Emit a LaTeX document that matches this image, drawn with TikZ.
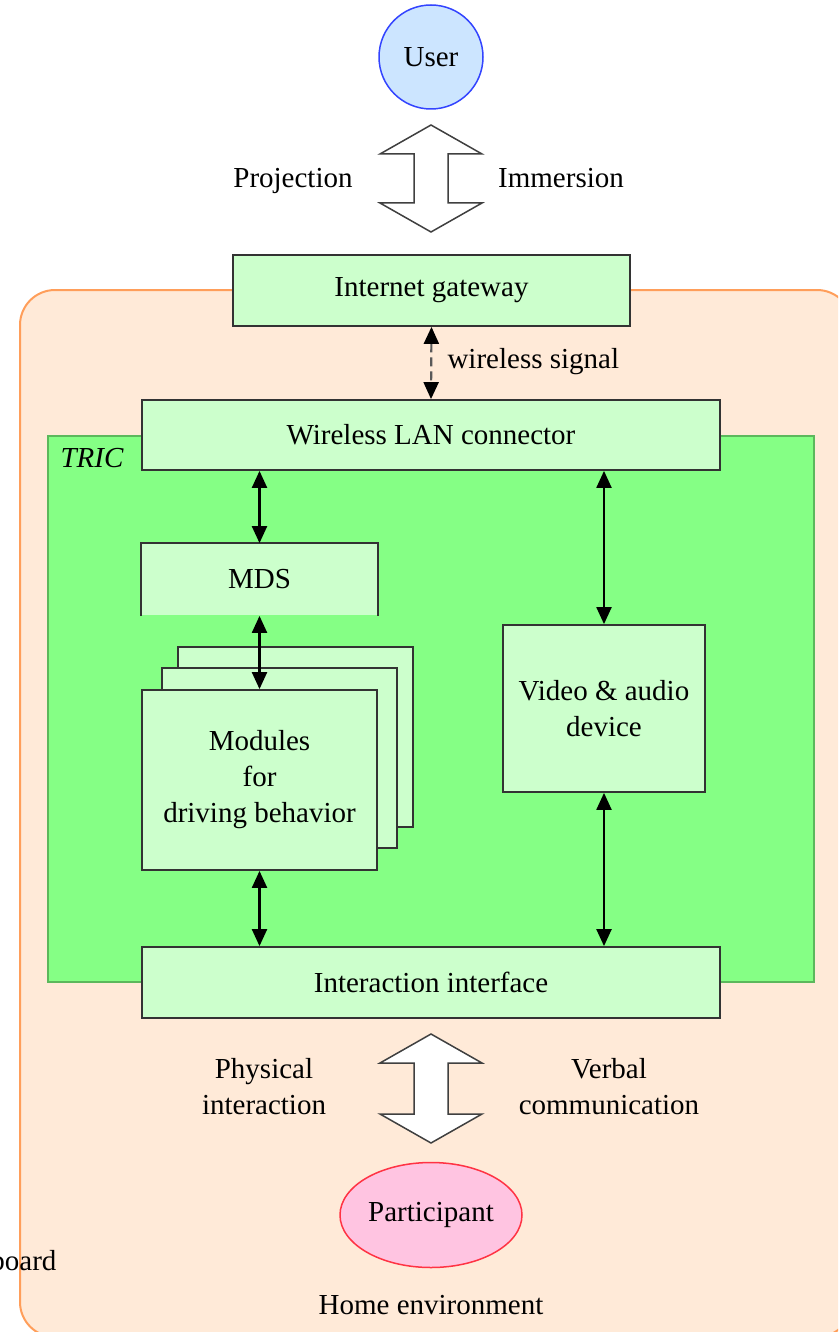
\documentclass[tikz,border=0pt]{standalone}
\usepackage{fontspec}
\setmainfont{Liberation Serif}
\usetikzlibrary{arrows.meta,positioning,shapes.geometric}
\definecolor{boxgreen}{HTML}{CCFFCC}
\definecolor{tricgreen}{HTML}{85FF85}
\definecolor{tricline}{HTML}{5CB85C}
\definecolor{homefill}{HTML}{FFEAD8}
\definecolor{homeline}{HTML}{FF9E5A}
\definecolor{userfill}{HTML}{CCE5FF}
\definecolor{userline}{HTML}{3344FF}
\definecolor{partfill}{HTML}{FFC4E1}
\definecolor{partline}{HTML}{FF3344}
\tikzset{
  box/.style={draw=black!80,fill=boxgreen,line width=1.8pt,inner sep=0pt,align=center},
  link/.style={line width=2.2pt,{Triangle[width=15pt,length=17pt]}-{Triangle[width=15pt,length=17pt]}},
  fat/.style={draw=black!75,fill=white,line width=1.5pt,line join=miter},
}
\begin{document}
\begin{tikzpicture}[x=1pt,y=-1pt,font=\fontsize{29}{36}\selectfont]
  \useasboundingbox (0,0) rectangle (838,1332);
  \clip (0,0) rectangle (838,1332);
  % home environment frame
  \draw[homeline,fill=homefill,line width=2pt,rounded corners=35pt] (20,290) rectangle (852,1337);
  \node[anchor=base east] (brd) at (60,1270) {board};
  \node (home) at (431,1305) {Home environment};
  % TRIC
  \node[draw=tricline,fill=tricgreen,line width=1.4pt,minimum width=766,minimum height=546] (tric) at (431,709) {};
  \node[anchor=base west] (tricl) at (57,467) {\textit{TRIC}};
  % user side
  \node[circle,draw=userline,fill=userfill,line width=1.5pt,minimum size=104,inner sep=0pt] (user) at (431,57) {User};
  \coordinate (up) at (431,125);
  \draw[fat] (up) -- ++(51,29) -- ++(-34,0) -- ++(0,49) -- ++(34,0) -- ++(-51,29) -- ++(-51,-29) -- ++(34,0) -- ++(0,-49) -- ++(-34,0) -- cycle;
  \node[anchor=base] (proj) at (293,188) {Projection};
  \node[anchor=base] (imm) at (561,188) {Immersion};
  \node[box,minimum width=397,minimum height=71] (gw) at (431.5,290.5) {Internet gateway};
  % boxes
  \node[box,minimum width=578,minimum height=70] (lan) at (431,435) {Wireless LAN connector};
  \node[box,draw=none,minimum width=235,minimum height=71] (mds) at (259.5,579.5) {MDS};
  \draw[line width=1.8pt,black!80] (mds.south west) -- (mds.north west) -- (mds.north east) -- (mds.south east);
  \node[box,minimum width=235,minimum height=180] (mod3) at (295.5,737) {};
  \node[box,minimum width=235,minimum height=180] (mod2) at (279.5,758) {};
  \node[box,minimum width=235,minimum height=180] (mod) at (259.5,780) {Modules\\for\\driving behavior};
  \node[box,minimum width=202,minimum height=167] (vid) at (604,708.5) {Video \& audio\\device};
  \node[box,minimum width=578,minimum height=71] (iface) at (431,982.5) {Interaction interface};
  % participant side
  \coordinate (down) at (431,1034);
  \draw[fat] (down) -- ++(51,29) -- ++(-34,0) -- ++(0,51) -- ++(34,0) -- ++(-51,29) -- ++(-51,-29) -- ++(34,0) -- ++(0,-51) -- ++(-34,0) -- cycle;
  \node[align=center] (phys) at (264,1087) {Physical\\interaction};
  \node[align=center] (verb) at (609,1087) {Verbal\\communication};
  \node[ellipse,draw=partline,fill=partfill,line width=1.5pt,minimum width=182,minimum height=105,inner sep=0pt] (part) at (431,1215) {Participant};
  % connectors
  \draw[link,draw=black!65,dash pattern=on 9pt off 5pt,{Triangle[width=15pt,length=17pt,color=black]}-{Triangle[width=15pt,length=17pt,color=black]}] (gw.south) -- (lan.north);
  \node[anchor=west] (wsig) at (444,362) {wireless signal};
  \draw[link] (mds.north |- lan.south) -- (mds.north);
  \draw[link] (mds.south) -- (mod.north);
  \draw[link] (mod.south) -- (mod.south |- iface.north);
  \draw[link] (vid.north |- lan.south) -- (vid.north);
  \draw[link] (vid.south) -- (vid.south |- iface.north);
\end{tikzpicture}
\end{document}
